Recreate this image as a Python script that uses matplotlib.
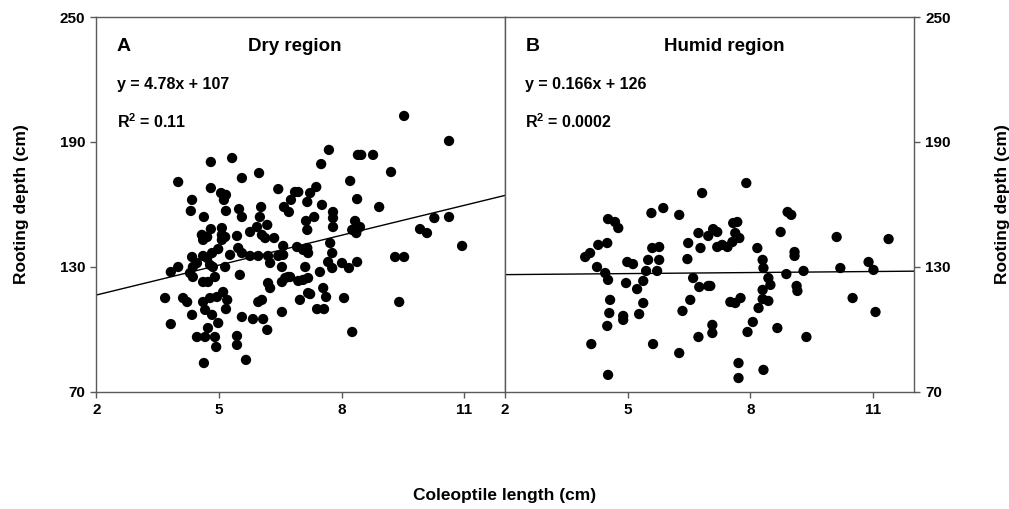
import matplotlib
matplotlib.use("Agg")
import matplotlib.pyplot as plt
import numpy as np

plt.rcParams["font.family"] = ["Liberation Sans", "DejaVu Sans"]
plt.rcParams["font.weight"] = "bold"
plt.rcParams["mathtext.fontset"] = "custom"
plt.rcParams["mathtext.rm"] = "Liberation Sans:bold"
plt.rcParams["mathtext.bf"] = "Liberation Sans:bold"

# dry region: coleoptile length (cm), rooting depth (cm)
dry_x = [9.53, 10.63, 7.69, 8.40, 8.48, 8.77, 4.80, 5.32, 9.21, 4.00, 8.21, 5.56, 5.98, 7.50,
         4.80, 5.05, 5.17, 6.45, 6.86, 6.94, 7.38, 7.23, 7.16, 5.12, 4.34, 6.76, 8.38,
         4.31, 4.63, 5.17, 5.49, 5.56, 6.03, 6.00, 6.59, 6.71, 7.52, 8.92, 7.79, 7.79, 7.33,
         7.13, 10.27, 10.63,
         7.16, 7.79, 8.33, 8.45, 8.26, 8.36, 9.92, 10.09, 4.80, 5.07, 4.58, 4.61, 4.71, 5.07,
         5.15, 5.07, 5.44, 5.76, 5.93, 6.18, 6.05, 6.13, 6.35,
         6.57, 6.91, 7.16, 7.06, 7.18, 7.72, 7.77, 10.95, 4.34, 4.61, 4.83, 4.98, 5.27, 5.47,
         5.76, 5.96, 6.20, 6.45, 6.57, 9.31, 9.53, 5.56, 4.46, 4.71,
         3.82, 4.00, 4.36, 4.78, 5.15, 6.25, 6.54, 7.11, 7.67, 7.77, 8.01, 8.18, 8.38, 4.29,
         4.36, 4.61, 4.73, 5.51, 6.20, 6.25, 6.62, 6.69, 6.54, 7.06, 7.18, 6.74, 7.47, 4.90, 4.85,
         7.55, 7.62, 6.98, 7.23, 7.40, 7.57, 8.06, 9.41, 3.68, 4.12, 4.22, 4.34, 4.61, 4.78,
         4.95, 5.10, 5.20, 5.17, 4.66, 4.83, 5.56, 5.83, 6.08, 6.54, 5.96, 6.05, 7.18, 6.94,
         3.82, 4.98, 4.46, 4.66, 4.73, 4.90, 4.93, 5.44, 5.44, 5.66, 4.63, 6.18, 8.26]
dry_y = [202.5, 190.5, 186.2, 183.8, 183.8, 183.8, 180.4, 182.3, 175.6, 170.8, 171.3, 172.7, 175.1, 179.4,
         167.9, 165.5, 164.6, 167.4, 166.0, 166.0, 168.4, 165.5, 161.2, 162.2, 162.2, 162.2, 162.6,
         156.9, 154.0, 156.9, 157.8, 154.0, 158.8, 154.0, 158.8, 156.4, 159.8, 158.8, 156.4, 153.5, 154.0,
         152.1, 153.5, 154.0,
         147.8, 149.2, 152.1, 149.2, 147.8, 146.3, 148.2, 146.3, 148.2, 148.7, 145.4, 143.0, 144.4, 145.4,
         144.4, 143.0, 144.9, 146.8, 149.2, 150.2, 145.4, 143.9, 143.9,
         140.1, 139.6, 139.1, 138.2, 136.7, 141.5, 136.7, 140.1, 134.8, 135.3, 136.7, 138.6, 135.8, 139.1,
         135.3, 135.3, 135.3, 135.3, 135.8, 134.8, 134.8, 136.7, 131.9, 134.3,
         127.6, 130.0, 130.0, 131.0, 130.0, 131.9, 130.0, 130.0, 132.4, 129.5, 131.9, 129.5, 132.4, 127.1,
         125.2, 122.8, 122.8, 126.2, 122.3, 119.9, 124.7, 125.2, 122.8, 123.8, 124.7, 125.2, 127.6, 125.2, 130.0,
         119.9, 115.6, 114.2, 117.0, 109.8, 109.8, 115.1, 113.2, 115.1, 115.1, 113.2, 107.0, 113.2, 115.1,
         115.6, 118.0, 114.2, 109.8, 109.4, 107.0, 106.0, 105.0, 105.0, 108.4, 113.2, 114.2, 117.5, 123.3,
         102.6, 103.1, 96.4, 96.4, 100.7, 96.4, 91.6, 96.9, 92.6, 85.4, 83.9, 99.8, 98.8]

# humid region
humid_x = [5.87, 5.58, 6.26, 4.52, 4.69, 4.77, 4.28, 4.50, 4.08, 3.96, 4.25, 4.45, 4.52, 4.99, 5.13,
           5.50, 5.77, 5.60, 5.77, 5.45, 5.72, 5.38, 5.23, 4.96, 4.57, 5.38, 4.55, 5.28, 4.89, 4.89,
           4.50, 4.11, 5.62, 6.26, 4.52,
           6.73, 6.97, 7.09, 7.19, 6.48, 6.78, 6.46, 6.60, 6.75, 6.97, 6.53, 6.34, 7.07, 7.07, 6.73,
           8.91, 9.00, 8.74, 10.11, 11.38, 8.17, 9.08, 9.08, 8.30, 8.32, 8.44, 8.49, 8.88, 9.30, 10.20,
           10.89, 11.01, 8.30, 8.30, 8.44, 8.20, 9.13, 9.15, 10.50, 11.06, 8.06, 7.93, 8.66, 9.37,
           7.71, 7.71, 8.32, 7.51, 7.63, 7.76, 7.02, 7.31, 7.44, 7.56, 7.63, 7.58, 7.68, 7.73, 7.19,
           7.90, 6.82]
humid_y = [158.3, 155.9, 155.0, 153.0, 151.6, 148.7, 140.6, 141.5, 136.7, 134.8, 130.0, 127.1, 123.8, 132.4, 131.4,
           133.4, 133.4, 139.1, 139.6, 128.1, 128.1, 123.3, 119.4, 122.3, 114.2, 112.7, 107.9, 107.4, 106.5, 104.6,
           101.7, 93.0, 93.0, 88.7, 78.2,
           146.3, 144.9, 148.2, 139.6, 141.5, 139.1, 133.8, 124.7, 120.4, 120.9, 114.2, 108.9, 102.2, 98.3, 96.4,
           156.4, 155.0, 146.8, 144.4, 143.4, 139.1, 137.2, 135.3, 133.4, 129.5, 124.7, 121.4, 126.6, 128.1, 129.5,
           132.4, 128.6, 119.0, 114.6, 113.7, 110.3, 120.9, 118.5, 115.1, 108.4, 103.6, 98.8, 100.7, 96.4,
           83.9, 76.7, 80.6, 113.2, 112.7, 115.1, 120.9, 140.6, 139.6, 142.0, 146.3, 151.1, 151.6, 143.9, 146.8,
           170.3, 165.5]

# fitted lines (slope, intercept) as printed on the chart
dry_fit = (4.78, 107)
humid_fit = (0.166, 126)

x_ticks = [2, 5, 8, 11]
y_ticks = [70, 130, 190, 250]

spine_col = "#5a5a5a"

fig = plt.figure(figsize=(10.09, 5.09), dpi=100)
ax1 = fig.add_axes([0.0956, 0.2299, 0.4049, 0.7367])
ax2 = fig.add_axes([0.5005, 0.2299, 0.4053, 0.7367])

panels = [
    (ax1, dry_x, dry_y, dry_fit, "A", "Dry region", 0.486,
     "y = 4.78x + 107", r"$\mathbf{R^2}$ = 0.11"),
    (ax2, humid_x, humid_y, humid_fit, "B", "Humid region", 0.535,
     "y = 0.166x + 126", r"$\mathbf{R^2}$ = 0.0002"),
]

for ax, xs, ys, (m, b), letter, title, title_x, eq, r2 in panels:
    ax.scatter(xs, ys, s=55, color="black", edgecolors="none", zorder=3)
    xl = np.array([2, 12])
    ax.plot(xl, m * xl + b, color="black", linewidth=1.0, zorder=2)
    ax.set_xlim(2, 12)
    ax.set_ylim(70, 250)
    ax.set_xticks(x_ticks)
    ax.set_yticks(y_ticks)
    for s in ax.spines.values():
        s.set_color(spine_col)
        s.set_linewidth(1.0)
    ax.tick_params(direction="out", length=4, width=1, color=spine_col,
                   labelsize=11, pad=4)
    for lab in ax.get_xticklabels() + ax.get_yticklabels():
        lab.set_fontweight("bold")
    ax.text(0.05, 0.92, letter, transform=ax.transAxes, fontsize=14,
            fontweight="bold", va="center")
    ax.text(title_x, 0.92, title, transform=ax.transAxes, fontsize=13.5,
            fontweight="bold", va="center", ha="center")
    ax.text(0.05, 0.82, eq, transform=ax.transAxes, fontsize=11.5,
            fontweight="bold", va="center")
    ax.text(0.05, 0.722, r2, transform=ax.transAxes, fontsize=11.5,
            fontweight="bold", va="center")

ax1.set_ylabel("Rooting depth (cm)", fontsize=12.5, fontweight="bold", labelpad=22)

ax2.yaxis.tick_right()
ax2.yaxis.set_label_position("right")
ax2.set_ylabel("Rooting depth (cm)", fontsize=12.5, fontweight="bold", labelpad=32)
for lab in ax2.get_yticklabels():
    lab.set_fontweight("bold")

fig.text(0.5, 0.027, "Coleoptile length (cm)", fontsize=12.5, fontweight="bold",
         ha="center", va="center")

fig.savefig("out.png", dpi=100)
